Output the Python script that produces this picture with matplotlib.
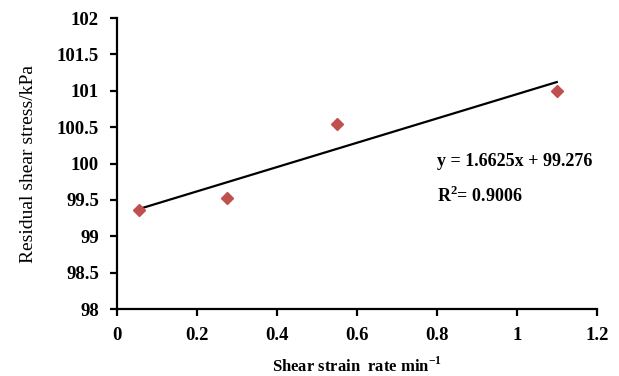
import matplotlib
matplotlib.use('Agg')
import matplotlib.pyplot as plt
import numpy as np

# Data
strain_rate = [0.055, 0.275, 0.55, 1.1]
shear_stress = [99.36, 99.53, 100.55, 101.0]
x_ticks = [0, 0.2, 0.4, 0.6, 0.8, 1, 1.2]
x_labels = ['0', '0.2', '0.4', '0.6', '0.8', '1', '1.2']
y_ticks = [98, 98.5, 99, 99.5, 100, 100.5, 101, 101.5, 102]
y_labels = ['98', '98.5', '99', '99.5', '100', '100.5', '101', '101.5', '102']

plt.rcParams['font.family'] = ['Liberation Serif', 'DejaVu Serif']
plt.rcParams['mathtext.fontset'] = 'custom'
plt.rcParams['mathtext.rm'] = 'Liberation Serif:bold'
plt.rcParams['mathtext.bf'] = 'Liberation Serif:bold'

fig = plt.figure(figsize=(6.19, 3.76), dpi=100)
ax = fig.add_axes([0.189, 0.178, 0.775, 0.774])

# Linear trendline over the data range
coeffs = np.polyfit(strain_rate, shear_stress, 1)
fit = np.poly1d(coeffs)
x_line = np.array([min(strain_rate), max(strain_rate)])
ax.plot(x_line, fit(x_line), color='black', linewidth=1.6, zorder=2)

ax.plot(strain_rate, shear_stress, linestyle='none', marker='D', markersize=6.5,
        color='#C0504D', zorder=3)

ax.set_xlim(0, 1.2)
ax.set_ylim(98, 102)
ax.set_xticks(x_ticks)
ax.set_xticklabels(x_labels, fontweight='bold', fontsize=13.5)
ax.set_yticks(y_ticks)
ax.set_yticklabels(y_labels, fontweight='bold', fontsize=13.5)
ax.tick_params(direction='out', length=5, width=1.6, pad=8)

for side in ['top', 'right']:
    ax.spines[side].set_visible(False)
for side in ['left', 'bottom']:
    ax.spines[side].set_linewidth(1.6)

ax.set_xlabel('Shear strain  rate min$^{-1}$', fontweight='bold', fontsize=12, labelpad=9)
ax.set_ylabel('Residual shear stress/kPa', fontsize=14, labelpad=14)

ax.text(0.8, 100.03, 'y = 1.6625x + 99.276', fontweight='bold', fontsize=13, va='center')
ax.text(0.8, 99.55, 'R$^{2}$= 0.9006', fontweight='bold', fontsize=13, va='center')

fig.savefig('out.png', dpi=100)
